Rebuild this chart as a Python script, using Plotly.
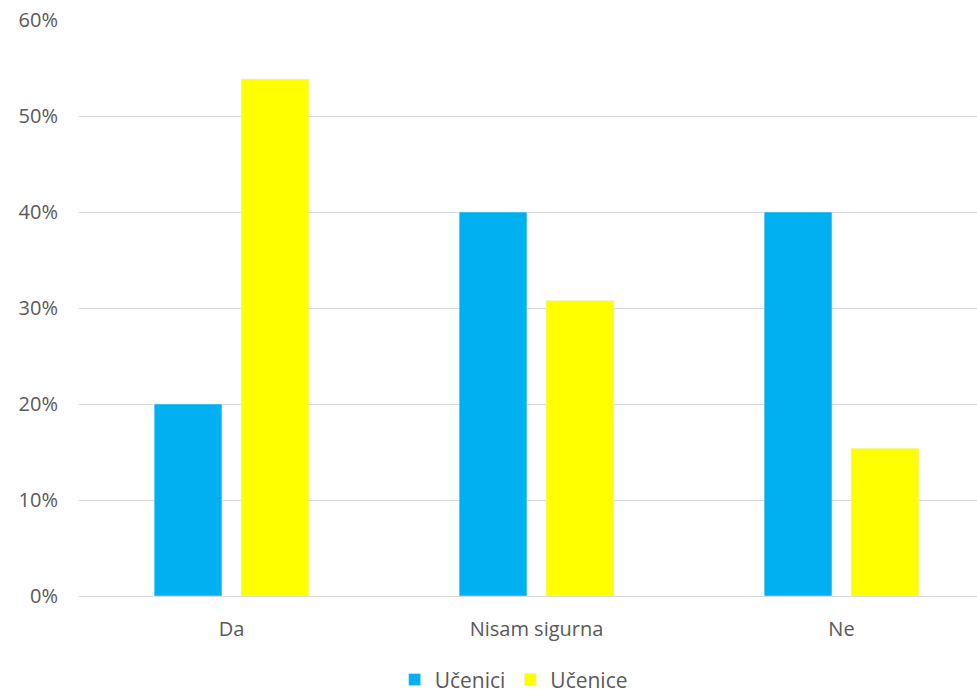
import plotly.graph_objects as go

categories = ["Da", "Nisam sigurna", "Ne"]
ucenici = [20.0, 40.0, 40.0]
ucenice = [53.85, 30.77, 15.38]
y_ticks = [0, 10, 20, 30, 40, 50, 60]
y_labels = [f"{t}%" for t in y_ticks]

font = dict(family="Open Sans, sans-serif", size=20, color="#595959")

fig = go.Figure()
fig.add_trace(go.Bar(name="Učenici", x=categories, y=ucenici, marker_color="#00B0F0"))
fig.add_trace(go.Bar(name="Učenice", x=categories, y=ucenice, marker_color="#FFFF00"))

# plot area runs a little past the right edge of the window, like the original
fig.update_layout(
    width=994, height=691,
    barmode="group", bargap=0.43, bargroupgap=0.22,
    plot_bgcolor="white", paper_bgcolor="white",
    font=font,
    margin=dict(l=79, r=0, t=20, b=95, autoexpand=False),
    showlegend=True,
    legend=dict(orientation="h", x=0.475, xanchor="center", y=-0.11, yanchor="top",
                font=dict(size=21, color="#595959"), itemwidth=30),
    xaxis=dict(showgrid=False, showline=True, linecolor="#d9d9d9", linewidth=1,
               ticks="", tickfont=font, automargin=False, ticklabelstandoff=15),
    yaxis=dict(range=[0, 60], tickvals=y_ticks, ticktext=y_labels,
               showgrid=True, gridcolor="#d9d9d9", gridwidth=1,
               zeroline=False, ticks="", ticklabelstandoff=20, tickfont=font,
               automargin=False),
)

fig.write_html(
    "out.html",
    config={"displayModeBar": False},
    post_script="document.body.style.margin='0';document.body.style.overflow='hidden';",
)
